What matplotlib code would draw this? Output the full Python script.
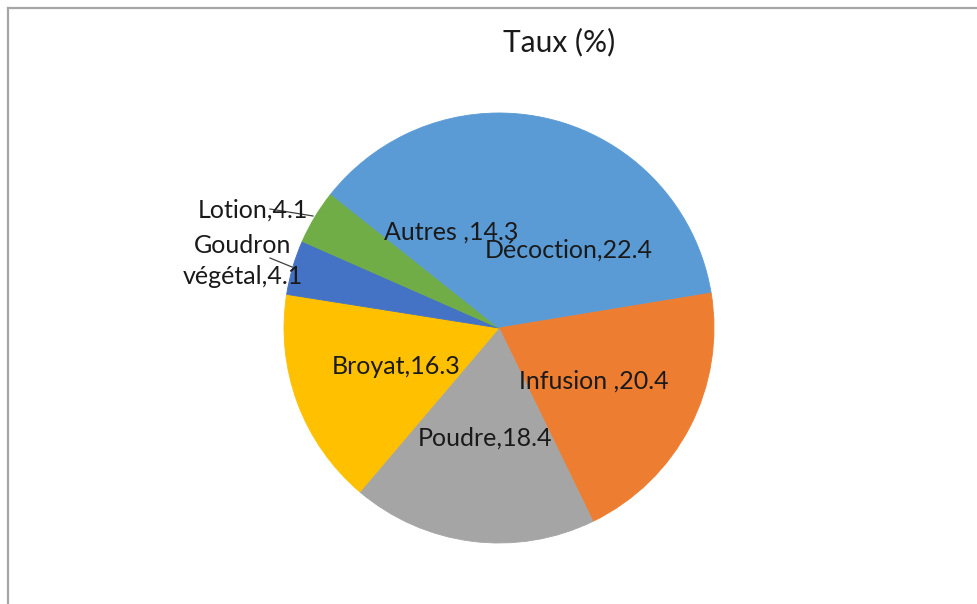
import matplotlib.pyplot as plt
from matplotlib.lines import Line2D

plt.rcParams['font.family'] = ['Lato', 'DejaVu Sans']

# data
labels = ['Décoction,22.4', 'Infusion ,20.4', 'Poudre,18.4', 'Broyat,16.3',
          'Goudron\nvégétal,4.1', 'Lotion,4.1', 'Autres ,14.3']
values = [22.4, 20.4, 18.4, 16.3, 4.1, 4.1, 14.3]
colors = ['#5B9BD5', '#ED7D31', '#A5A5A5', '#FFC000', '#4472C4', '#70AD47', '#5B9BD5']
title = 'Taux (%)'

W, H = 978, 604
cx, cy, r = 499, 328, 215

fig = plt.figure(figsize=(W / 100, H / 100), dpi=100)
ax = fig.add_axes([(cx - r) / W, 1 - (cy + r) / H, 2 * r / W, 2 * r / H])

wedges, _ = ax.pie(values, colors=colors, startangle=90, counterclock=False,
                   radius=1, wedgeprops=dict(linewidth=0.6))
for w in wedges:
    w.set_edgecolor(w.get_facecolor())
ax.set_xlim(-1, 1)
ax.set_ylim(-1, 1)
ax.set_aspect('equal')
ax.axis('off')


def d(px, py):
    # pixel position -> data coords of the pie axes
    return (px - cx) / r, (cy - py) / r


# label centres in pixels (same order as labels)
label_pos = [(569, 250), (594, 381), (485, 438), (396, 367),
             (243, 261), (253, 210), (451, 232)]
for lab, (px, py) in zip(labels, label_pos):
    x, y = d(px, py)
    ax.text(x, y, lab, ha='center', va='center', fontsize=18,
            color='#1a1a1a', linespacing=1.4, clip_on=False)

# leader lines for the small slices
for (x0, y0), (x1, y1) in [((270, 209), (313, 216)), ((270, 258), (292, 267))]:
    a, b = d(x0, y0)
    c, e = d(x1, y1)
    ax.plot([a, c], [b, e], color='#404040', lw=0.9, clip_on=False)

fig.text(559 / W, 1 - 42 / H, title, ha='center', va='center', fontsize=21.5,
         color='#1a1a1a')

# chart frame (cropped at right/bottom)
fig.add_artist(Line2D([8 / W, 8 / W], [1 - 8 / H, 0], color='#a6a6a6', lw=1.6))
fig.add_artist(Line2D([8 / W, 1], [1 - 8 / H, 1 - 8 / H], color='#a6a6a6', lw=1.6))

fig.savefig('out.png', dpi=100, facecolor='white')
